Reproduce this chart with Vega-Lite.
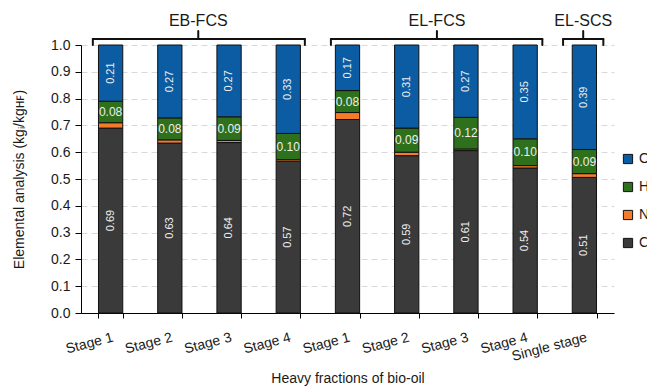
{
  "$schema": "https://vega.github.io/schema/vega-lite/v6.json",
  "width": 533,
  "height": 268,
  "autosize": {"type": "none"},
  "padding": {"left": 81, "top": 45, "right": 33, "bottom": 75},
  "background": "white",
  "config": {
    "font": "Liberation Sans",
    "view": {"stroke": null},
    "axis": {"labelColor": "#1a1a1a", "titleColor": "#1a1a1a", "titleFontWeight": "normal", "labelFont": "Liberation Sans", "titleFont": "Liberation Sans"},
    "legend": {"labelFont": "Liberation Sans"},
    "text": {"font": "Liberation Sans"}
  },
  "datasets": {
    "shares": [
      {"bar": "EB-FCS: Stage 1", "element": "C", "share": 0.69},
      {"bar": "EB-FCS: Stage 1", "element": "N", "share": 0.02},
      {"bar": "EB-FCS: Stage 1", "element": "H", "share": 0.08},
      {"bar": "EB-FCS: Stage 1", "element": "O", "share": 0.21},
      {"bar": "EB-FCS: Stage 2", "element": "C", "share": 0.634},
      {"bar": "EB-FCS: Stage 2", "element": "N", "share": 0.012},
      {"bar": "EB-FCS: Stage 2", "element": "H", "share": 0.082},
      {"bar": "EB-FCS: Stage 2", "element": "O", "share": 0.272},
      {"bar": "EB-FCS: Stage 3", "element": "C", "share": 0.636},
      {"bar": "EB-FCS: Stage 3", "element": "N", "share": 0.008},
      {"bar": "EB-FCS: Stage 3", "element": "H", "share": 0.088},
      {"bar": "EB-FCS: Stage 3", "element": "O", "share": 0.268},
      {"bar": "EB-FCS: Stage 4", "element": "C", "share": 0.566},
      {"bar": "EB-FCS: Stage 4", "element": "N", "share": 0.006},
      {"bar": "EB-FCS: Stage 4", "element": "H", "share": 0.098},
      {"bar": "EB-FCS: Stage 4", "element": "O", "share": 0.33},
      {"bar": "EL-FCS: Stage 1", "element": "C", "share": 0.722},
      {"bar": "EL-FCS: Stage 1", "element": "N", "share": 0.026},
      {"bar": "EL-FCS: Stage 1", "element": "H", "share": 0.082},
      {"bar": "EL-FCS: Stage 1", "element": "O", "share": 0.17},
      {"bar": "EL-FCS: Stage 2", "element": "C", "share": 0.587},
      {"bar": "EL-FCS: Stage 2", "element": "N", "share": 0.013},
      {"bar": "EL-FCS: Stage 2", "element": "H", "share": 0.09},
      {"bar": "EL-FCS: Stage 2", "element": "O", "share": 0.31},
      {"bar": "EL-FCS: Stage 3", "element": "C", "share": 0.606},
      {"bar": "EL-FCS: Stage 3", "element": "N", "share": 0.006},
      {"bar": "EL-FCS: Stage 3", "element": "H", "share": 0.118},
      {"bar": "EL-FCS: Stage 3", "element": "O", "share": 0.27},
      {"bar": "EL-FCS: Stage 4", "element": "C", "share": 0.541},
      {"bar": "EL-FCS: Stage 4", "element": "N", "share": 0.009},
      {"bar": "EL-FCS: Stage 4", "element": "H", "share": 0.1},
      {"bar": "EL-FCS: Stage 4", "element": "O", "share": 0.35},
      {"bar": "EL-SCS: Single stage", "element": "C", "share": 0.506},
      {"bar": "EL-SCS: Single stage", "element": "N", "share": 0.014},
      {"bar": "EL-SCS: Single stage", "element": "H", "share": 0.09},
      {"bar": "EL-SCS: Single stage", "element": "O", "share": 0.39}
    ],
    "brackets": [
      {"group": "EB-FCS", "from": 0.2, "to": 3.78, "mid": 1.98},
      {"group": "EL-FCS", "from": 4.22, "to": 7.79, "mid": 6.01},
      {"group": "EL-SCS", "from": 8.14, "to": 8.82, "mid": 8.48}
    ]
  },
  "layer": [
    {
      "data": {"name": "shares"},
      "transform": [
        {"calculate": "indexof(['C','N','H','O'], datum.element)", "as": "rank"},
        {"stack": "share", "groupby": ["bar"], "sort": [{"field": "rank", "order": "ascending"}], "as": ["v0", "v1"]},
        {"calculate": "(datum.v0 + datum.v1) / 2", "as": "mid"}
      ],
      "encoding": {
        "x": {
          "field": "bar",
          "type": "nominal",
          "sort": null,
          "scale": {"paddingInner": 0.59, "paddingOuter": 0.295},
          "axis": {
            "title": "Heavy fractions of bio-oil",
            "labelExpr": "split(datum.label, ': ')[1]",
            "labelAngle": -15,
            "labelAlign": "right",
            "labelBaseline": "top",
            "labelOverlap": false,
            "tickBand": "extent",
            "tickSize": 5,
            "tickColor": "black",
            "domainColor": "black",
            "labelFontSize": 14,
            "titleFontSize": 14,
            "labelPadding": 12,
            "titlePadding": 8,
            "grid": false
          }
        }
      },
      "layer": [
        {
          "mark": {"type": "bar", "stroke": "#111", "strokeWidth": 1},
          "encoding": {
            "y": {
              "field": "v0",
              "type": "quantitative",
              "scale": {"domain": [0, 1]},
              "axis": {
                "title": "Elemental analysis (kgᵢ/kgʜꜰ)",
                "values": [0, 0.1, 0.2, 0.3, 0.4, 0.5, 0.6, 0.7, 0.8, 0.9, 1.0],
                "format": ".1f",
                "labelOverlap": false,
                "grid": true,
                "gridDash": [6, 4],
                "gridColor": "#d9d9d9",
                "tickSize": 6,
                "tickColor": "black",
                "domainColor": "black",
                "labelFontSize": 14,
                "titleFontSize": 14,
                "labelPadding": 5,
                "titlePadding": 24
              }
            },
            "y2": {"field": "v1"},
            "color": {
              "field": "element",
              "type": "nominal",
              "scale": {"domain": ["O", "H", "N", "C"], "range": ["#0B5CA2", "#2E701C", "#F47A2C", "#3A3A3A"]},
              "legend": {
                "title": null,
                "orient": "none",
                "legendX": 540,
                "legendY": 107,
                "symbolType": "square",
                "symbolSize": 85,
                "symbolStrokeColor": "#111",
                "symbolStrokeWidth": 1,
                "symbolOpacity": 1,
                "labelFontSize": 14,
                "labelColor": "#1a1a1a",
                "labelOffset": 4,
                "rowPadding": 14
              }
            }
          }
        },
        {
          "transform": [{"filter": "datum.element === 'C' || datum.element === 'O'"}],
          "mark": {"type": "text", "angle": 270, "fontSize": 11, "color": "#eeeeee", "align": "center", "baseline": "middle"},
          "encoding": {
            "y": {
              "field": "mid",
              "type": "quantitative",
              "scale": {"domain": [0, 1]},
              "axis": {
                "title": "Elemental analysis (kgᵢ/kgʜꜰ)",
                "values": [0, 0.1, 0.2, 0.3, 0.4, 0.5, 0.6, 0.7, 0.8, 0.9, 1.0],
                "format": ".1f",
                "labelOverlap": false,
                "grid": true,
                "gridDash": [6, 4],
                "gridColor": "#d9d9d9",
                "tickSize": 6,
                "tickColor": "black",
                "domainColor": "black",
                "labelFontSize": 14,
                "titleFontSize": 14,
                "labelPadding": 5,
                "titlePadding": 24
              }
            },
            "text": {"field": "share", "type": "quantitative", "format": ".2f"}
          }
        },
        {
          "transform": [{"filter": "datum.element === 'H'"}],
          "mark": {"type": "text", "fontSize": 12, "color": "#eeeeee", "align": "center", "baseline": "middle"},
          "encoding": {
            "y": {
              "field": "mid",
              "type": "quantitative",
              "scale": {"domain": [0, 1]},
              "axis": {
                "title": "Elemental analysis (kgᵢ/kgʜꜰ)",
                "values": [0, 0.1, 0.2, 0.3, 0.4, 0.5, 0.6, 0.7, 0.8, 0.9, 1.0],
                "format": ".1f",
                "labelOverlap": false,
                "grid": true,
                "gridDash": [6, 4],
                "gridColor": "#d9d9d9",
                "tickSize": 6,
                "tickColor": "black",
                "domainColor": "black",
                "labelFontSize": 14,
                "titleFontSize": 14,
                "labelPadding": 5,
                "titlePadding": 24
              }
            },
            "text": {"field": "share", "type": "quantitative", "format": ".2f"}
          }
        }
      ]
    },
    {
      "data": {"name": "brackets"},
      "layer": [
        {
          "mark": {"type": "rule", "strokeWidth": 2, "color": "#111", "strokeCap": "round"},
          "encoding": {
            "x": {"field": "from", "type": "quantitative", "scale": {"domain": [0, 9]}, "axis": null},
            "x2": {"field": "to"},
            "y": {"datum": 1.022, "type": "quantitative", "scale": {"domain": [0, 1]}, "axis": null}
          }
        },
        {
          "mark": {"type": "rule", "strokeWidth": 2, "color": "#111", "strokeCap": "round"},
          "encoding": {
            "x": {"field": "from", "type": "quantitative", "scale": {"domain": [0, 9]}, "axis": null},
            "y": {"datum": 1.0, "type": "quantitative", "scale": {"domain": [0, 1]}, "axis": null},
            "y2": {"datum": 1.022}
          }
        },
        {
          "mark": {"type": "rule", "strokeWidth": 2, "color": "#111", "strokeCap": "round"},
          "encoding": {
            "x": {"field": "to", "type": "quantitative", "scale": {"domain": [0, 9]}, "axis": null},
            "y": {"datum": 1.0, "type": "quantitative", "scale": {"domain": [0, 1]}, "axis": null},
            "y2": {"datum": 1.022}
          }
        },
        {
          "mark": {"type": "rule", "strokeWidth": 2, "color": "#111", "strokeCap": "round"},
          "encoding": {
            "x": {"field": "mid", "type": "quantitative", "scale": {"domain": [0, 9]}, "axis": null},
            "y": {"datum": 1.022, "type": "quantitative", "scale": {"domain": [0, 1]}, "axis": null},
            "y2": {"datum": 1.052}
          }
        },
        {
          "mark": {"type": "text", "fontSize": 16, "color": "#1a1a1a", "align": "center", "baseline": "middle"},
          "encoding": {
            "x": {"field": "mid", "type": "quantitative", "scale": {"domain": [0, 9]}, "axis": null},
            "y": {"datum": 1.09, "type": "quantitative", "scale": {"domain": [0, 1]}, "axis": null},
            "text": {"field": "group", "type": "nominal"}
          }
        }
      ]
    }
  ],
  "resolve": {"scale": {"x": "independent", "y": "independent"}}
}
